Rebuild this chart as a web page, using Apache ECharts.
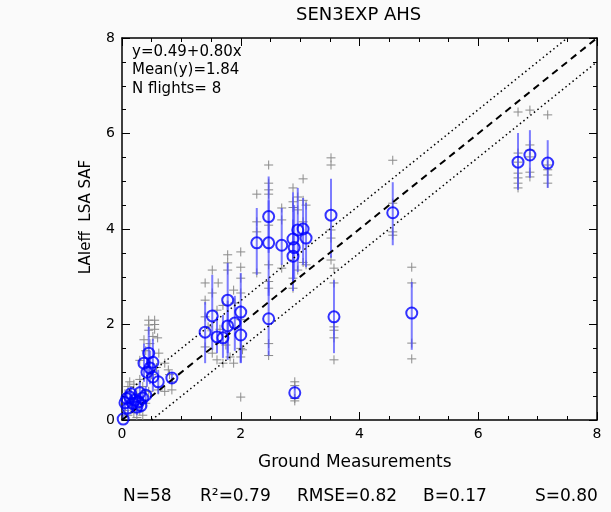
<!DOCTYPE html>
<html><head><meta charset="utf-8">
<script src="https://cdn.jsdelivr.net/npm/echarts@6/dist/echarts.min.js"></script>
<style>html,body{margin:0;padding:0;background:#fafafa}#c{width:611px;height:512px}</style>
</head><body><div id="c"></div>
<script>
// Blue circles: ground measurement (x), LSA SAF mean (y), error bar low/high
const groundX = [6.67,6.87,7.17,4.56,4.88,3.57,3.52,2.91,2.47,2.27,2.47,2.69,2.88,2.90,2.88,2.96,3.05,3.10,2.47,
  1.40,1.52,1.78,1.60,1.70,1.78,1.90,2.00,2.00,
  0.45,0.37,0.52,0.47,0.52,0.61,0.84,0.42,
  0.13,0.22,0.30,0.35,0.05,0.10,0.25,0.02,0.18,0.28,0.40,0.15,0.08,0.32];
const safY = [5.40,5.55,5.38,4.34,2.24,2.16,4.29,0.57,4.26,3.71,3.71,3.66,3.79,3.61,3.43,3.98,4.00,3.81,2.12,
  1.84,2.18,2.51,1.74,1.72,1.97,2.03,2.26,1.78,
  1.40,1.19,1.21,1.09,0.90,0.80,0.88,1.00,
  0.48,0.42,0.57,0.46,0.36,0.25,0.27,0.02,0.35,0.38,0.52,0.55,0.45,0.30];
const errLow = [4.82,5.07,4.86,3.66,1.47,1.40,3.40,0.45,3.50,3.04,2.60,3.25,2.89,2.95,2.70,3.10,3.25,3.20,1.35,
  1.19,1.47,1.26,1.40,1.30,1.40,1.45,1.19,1.20,
  0.95,0.80,0.85,0.75,0.60,0.55,0.75,0.70,
  0.30,0.25,0.35,0.30,0.20,0.10,0.10,0.00,0.20,0.22,0.35,0.40,0.30,0.15];
const errHigh = [6.01,6.07,5.86,4.98,2.89,2.93,5.05,0.72,5.10,4.44,4.60,4.44,4.77,4.50,4.20,4.86,4.65,4.55,2.90,
  2.47,3.04,3.29,2.16,2.20,2.50,2.60,3.08,2.40,
  1.95,1.60,1.70,1.45,1.20,1.05,1.00,1.30,
  0.65,0.60,0.80,0.65,0.50,0.40,0.45,0.10,0.50,0.55,0.70,0.70,0.60,0.45];
// Grey crosses: individual values [ground, SAF]
const crosses = [
  [6.67,6.45],[6.67,5.59],[6.67,5.40],[6.67,5.17],[6.67,5.07],[6.67,4.96],[6.67,4.86],
  [6.87,6.49],[6.87,5.76],[6.87,5.65],[6.87,5.51],[6.87,5.19],[6.87,5.09],
  [7.17,6.39],[7.17,5.34],[7.17,5.24],[7.17,5.13],[7.17,4.96],
  [4.56,5.44],[4.56,4.54],[4.56,3.94],[4.56,3.87],
  [4.88,3.20],[4.88,2.87],[4.88,1.61],[4.88,1.28],
  [3.57,3.18],[3.57,2.87],[3.57,1.95],[3.57,1.88],[3.57,1.72],[3.57,1.26],
  [3.52,5.49],[3.52,5.34],[3.52,3.98],[3.52,3.81],[3.52,3.35],
  [2.91,0.80],[2.91,0.72],[2.91,0.45],[2.91,0.40],
  [2.47,5.34],[2.47,4.96],[2.47,4.82],[2.47,4.73],[2.47,4.08],[2.47,3.25],[2.47,2.76],
  [2.47,2.90],[2.47,1.60],[2.47,1.35],
  [2.27,4.73],[2.27,4.15],[2.27,3.94],[2.27,3.08],
  [2.69,4.44],[2.69,4.19],[2.69,3.18],
  [2.88,4.86],[2.88,4.57],[2.88,4.45],[2.88,2.97],[2.88,2.76],
  [2.96,4.67],[2.96,4.40],[2.96,3.14],
  [3.05,5.05],[3.05,4.60],[3.05,4.15],[3.05,3.30],
  [3.10,4.50],[3.10,3.25],
  [1.78,3.46],[2.00,3.52],[1.78,3.29],[1.52,3.14],[1.78,3.14],[2.00,3.20],[1.40,2.87],[1.62,2.87],
  [1.40,2.51],[1.52,2.66],[1.88,2.72],[2.00,2.97],[2.00,2.66],[1.40,2.16],[1.75,1.57],[2.00,1.50],
  [2.03,1.47],[1.40,1.53],[1.52,1.40],[1.60,1.26],[1.70,1.19],[1.82,1.32],[1.88,1.19],[2.00,1.32],
  [2.00,0.48],[1.60,2.30],[1.70,2.40],[1.90,2.45],[2.00,2.10],[1.45,1.95],[1.65,1.90],
  [0.45,2.09],[0.55,2.09],[0.45,1.99],[0.55,2.00],[0.45,1.88],[0.55,1.90],[0.37,1.68],[0.60,1.72],
  [0.47,1.60],[0.52,1.75],[0.13,0.80],[0.72,1.19],[0.78,1.05],[0.84,0.63],[0.61,0.63],[0.72,0.60],
  [0.50,0.95],[0.40,1.45],[0.30,1.25],[0.62,1.40],[0.58,1.10],[0.84,0.80],[0.80,0.95],
  [0.10,0.70],[0.20,0.75],[0.30,0.85],[0.35,0.70],[0.05,0.55],[0.15,0.40],[0.25,0.55],[0.40,0.35],
  [0.10,0.10],[0.20,0.15],[0.30,0.20],[0.35,0.10],[0.05,0.20],[0.45,0.60],[0.25,0.05],[0.15,0.25]
];
const oneToOne = [[0,0],[8,8]];
const upperBand = [[0,0.5],[7.5,8]];
const lowerBand = [[0.5,0],[8,7.5]];
const axisTicks = [0,2,4,6,8];
const titleText = 'SEN3EXP AHS';
const xTitle = 'Ground Measurements';
const yTitle = 'LAIeff  LSA SAF';
const notes = ['y=0.49+0.80x','Mean(y)=1.84','N flights= 8'];
const stats = ['N=58','R\u00b2=0.79','RMSE=0.82','B=0.17','S=0.80'];

const FONT = 'DejaVu Sans';
const circles = groundX.map((x,i)=>[x,safY[i]]);
const bars = groundX.map((x,i)=>[x,errLow[i],errHigh[i]]);

function makeAxis(pos, labels){
  return {
    type:'value', min:axisTicks[0], max:axisTicks[axisTicks.length-1], interval:2, position:pos,
    axisLine:{show:true,onZero:false,lineStyle:{color:'#000',width:1.5}},
    axisTick:{show:true,inside:true,length:8,lineStyle:{color:'#000',width:1}},
    minorTick:{show:true,splitNumber:4,length:4,lineStyle:{color:'#000',width:1}},
    splitLine:{show:false},
    axisLabel:{show:labels,color:'#000',fontSize:14,fontFamily:FONT,margin:7}
  };
}

const chart = echarts.init(document.getElementById('c'),null,{renderer:'canvas'});
const option = {
  backgroundColor:'#fafafa',
  animation:false,
  grid:{left:122,right:14,top:38,bottom:92},
  xAxis:[makeAxis('bottom',true), makeAxis('top',false)],
  yAxis:[makeAxis('left',true), makeAxis('right',false)],
  graphic:[
    {type:'text',left:'center',x:0,top:6,style:{text:titleText,font:'18px '+FONT,fill:'#000'},left:296},
    {type:'text',left:258,top:454,style:{text:xTitle,font:'17px '+FONT,fill:'#000'}},
    {type:'text',x:86,y:217,rotation:Math.PI/2,style:{text:yTitle,font:'15px '+FONT,fill:'#000',align:'center',verticalAlign:'middle'}},
    {type:'text',x:132,y:52,style:{text:notes[0],font:'15px '+FONT,fill:'#000',verticalAlign:'middle'}},
    {type:'text',x:132,y:70,style:{text:notes[1],font:'15px '+FONT,fill:'#000',verticalAlign:'middle'}},
    {type:'text',x:132,y:89,style:{text:notes[2],font:'15px '+FONT,fill:'#000',verticalAlign:'middle'}},
    {type:'text',x:123,y:497,style:{text:stats[0],font:'17px '+FONT,fill:'#000',verticalAlign:'middle'}},
    {type:'text',x:200,y:497,style:{text:stats[1],font:'17px '+FONT,fill:'#000',verticalAlign:'middle'}},
    {type:'text',x:297,y:497,style:{text:stats[2],font:'17px '+FONT,fill:'#000',verticalAlign:'middle'}},
    {type:'text',x:423,y:497,style:{text:stats[3],font:'17px '+FONT,fill:'#000',verticalAlign:'middle'}},
    {type:'text',x:535,y:497,style:{text:stats[4],font:'17px '+FONT,fill:'#000',verticalAlign:'middle'}}
  ],
  series:[
    {type:'custom', data:crosses, z:2, clip:true,
      renderItem:function(params,api){
        const p = api.coord([api.value(0),api.value(1)]); const s=4.5;
        return {type:'group',children:[
          {type:'line',shape:{x1:p[0]-s,y1:p[1],x2:p[0]+s,y2:p[1]},style:{stroke:'#8a8a8a',lineWidth:1}},
          {type:'line',shape:{x1:p[0],y1:p[1]-s,x2:p[0],y2:p[1]+s},style:{stroke:'#8a8a8a',lineWidth:1}}
        ]};
      }},
    {type:'custom', data:bars, z:3, clip:true,
      renderItem:function(params,api){
        const a = api.coord([api.value(0),api.value(1)]);
        const b = api.coord([api.value(0),api.value(2)]);
        return {type:'line',shape:{x1:a[0],y1:a[1],x2:b[0],y2:b[1]},style:{stroke:'rgba(70,70,255,0.7)',lineWidth:2}};
      }},
    {type:'line', data:oneToOne, showSymbol:false, z:4, lineStyle:{color:'#000',width:2,type:[7,5]}},
    {type:'line', data:upperBand, showSymbol:false, z:4, lineStyle:{color:'#000',width:1.5,type:[1.5,3]}},
    {type:'line', data:lowerBand, showSymbol:false, z:4, lineStyle:{color:'#000',width:1.5,type:[1.5,3]}},
    {type:'scatter', data:circles, z:5, symbol:'circle', symbolSize:11,
      itemStyle:{color:'rgba(0,0,0,0)',borderColor:'#0000ff',borderWidth:2}}
  ]
};
chart.setOption(option);
</script></body></html>
